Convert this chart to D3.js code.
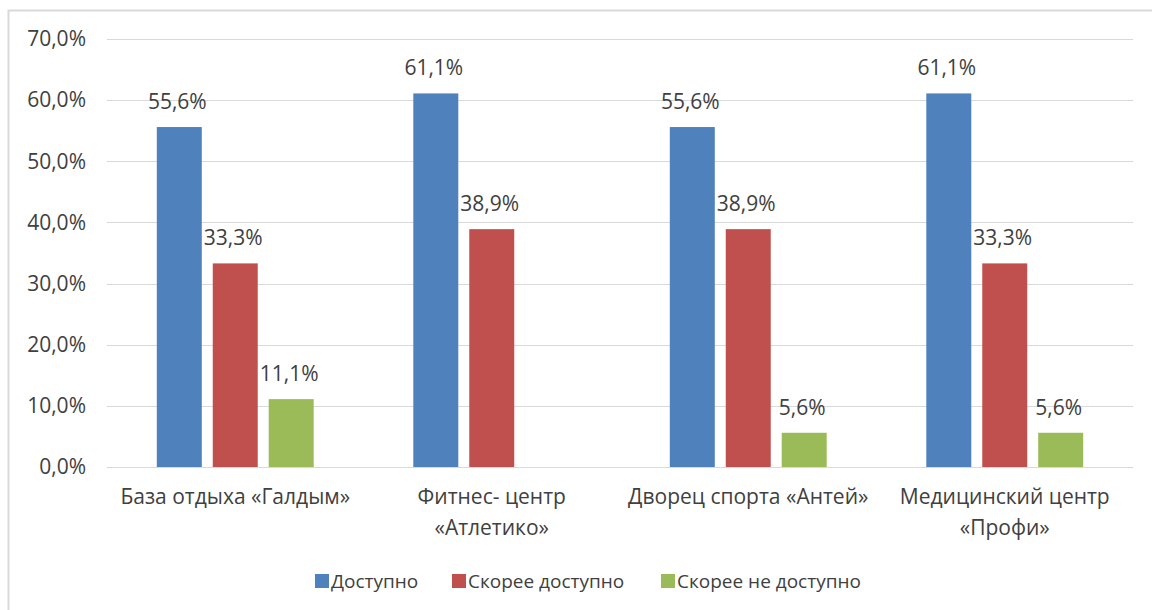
<!DOCTYPE html>
<html>
<head>
<meta charset="utf-8">
<script src="https://cdn.jsdelivr.net/npm/d3@7"></script>
<style>
  body { margin: 0; background: #fff; }
  svg text { font-family: "Open Sans", "Noto Sans", sans-serif; fill: #404040; }
</style>
</head>
<body>
<div id="chart"></div>
<script>
// chart data
var categories = [["База отдыха «Галдым»"], ["Фитнес- центр", "«Атлетико»"], ["Дворец спорта «Антей»"], ["Медицинский центр", "«Профи»"]];
var seriesNames = ["Доступно", "Скорее доступно", "Скорее не доступно"];
var seriesColors = ["#4f81bd", "#c0504d", "#9bbb59"];
var dostupno = [55.6, 61.1, 55.6, 61.1];
var skoreeDostupno = [33.3, 38.9, 38.9, 33.3];
var skoreeNe = [11.1, null, 5.6, 5.6];
var yTicks = [0, 10, 20, 30, 40, 50, 60, 70];

var series = [dostupno, skoreeDostupno, skoreeNe];

var width = 1152, height = 610;
var plotLeft = 107, plotRight = 1133, plotTop = 39, plotBottom = 467;
var fs = "21px";

var svg = d3.select("#chart").append("svg")
    .attr("width", width)
    .attr("height", height);

// outer frame
svg.append("rect")
    .attr("x", 8.5).attr("y", 10.5)
    .attr("width", width + 10).attr("height", height + 10)
    .attr("fill", "none")
    .attr("stroke", "#d9d9d9")
    .attr("stroke-width", 2);

var y = d3.scaleLinear().domain([0, 70]).range([plotBottom, plotTop]);
var x0 = d3.scaleBand().domain(d3.range(categories.length)).range([plotLeft, plotRight]);
var x1 = d3.scaleBand().domain(d3.range(series.length))
    .range([0, x0.bandwidth()]).paddingInner(0.196).paddingOuter(0.89);

// gridlines
svg.append("g").selectAll("line")
    .data(yTicks)
    .enter().append("line")
    .attr("x1", plotLeft).attr("x2", plotRight)
    .attr("y1", function (d) { return Math.round(y(d)) + 0.5; })
    .attr("y2", function (d) { return Math.round(y(d)) + 0.5; })
    .attr("stroke", "#d9d9d9")
    .attr("stroke-width", 1);

// y labels
var fmt = function (d) { return d.toFixed(1).replace(".", ",") + "%"; };
svg.append("g").selectAll("text")
    .data(yTicks)
    .enter().append("text")
    .attr("x", 86)
    .attr("y", function (d) { return y(d); })
    .attr("dy", "0.35em")
    .attr("text-anchor", "end")
    .style("font-size", fs)
    .text(fmt);

// bars
var groups = svg.append("g").selectAll("g")
    .data(categories)
    .enter().append("g")
    .attr("transform", function (d, i) { return "translate(" + x0(i) + ",0)"; });

series.forEach(function (vals, s) {
    groups.each(function (d, i) {
        var v = vals[i];
        if (v == null) return;
        var g = d3.select(this);
        g.append("rect")
            .attr("x", x1(s))
            .attr("y", y(v))
            .attr("width", x1.bandwidth())
            .attr("height", plotBottom - y(v))
            .attr("fill", seriesColors[s]);
        g.append("text")
            .attr("x", x1(s) + x1.bandwidth() / 2 - 2)
            .attr("y", y(v) - 18)
            .attr("text-anchor", "middle")
            .style("font-size", fs)
            .text(fmt(v));
    });
});

// category labels
groups.append("text")
    .attr("text-anchor", "middle")
    .style("font-size", fs)
    .selectAll("tspan")
    .data(function (d) { return d; })
    .enter().append("tspan")
    .attr("x", x0.bandwidth() / 2)
    .attr("y", function (d, i) { return 504 + i * 31; })
    .text(function (d) { return d; });

// legend
var legendX = [315, 452, 661];
var legend = svg.append("g").selectAll("g")
    .data(seriesNames)
    .enter().append("g")
    .attr("transform", function (d, i) { return "translate(" + legendX[i] + ",574)"; });
legend.append("rect")
    .attr("width", 14).attr("height", 14)
    .attr("fill", function (d, i) { return seriesColors[i]; });
legend.append("text")
    .attr("x", 16).attr("y", 7)
    .attr("dy", "0.35em")
    .style("font-size", "19px")
    .text(function (d) { return d; });
</script>
</body>
</html>
